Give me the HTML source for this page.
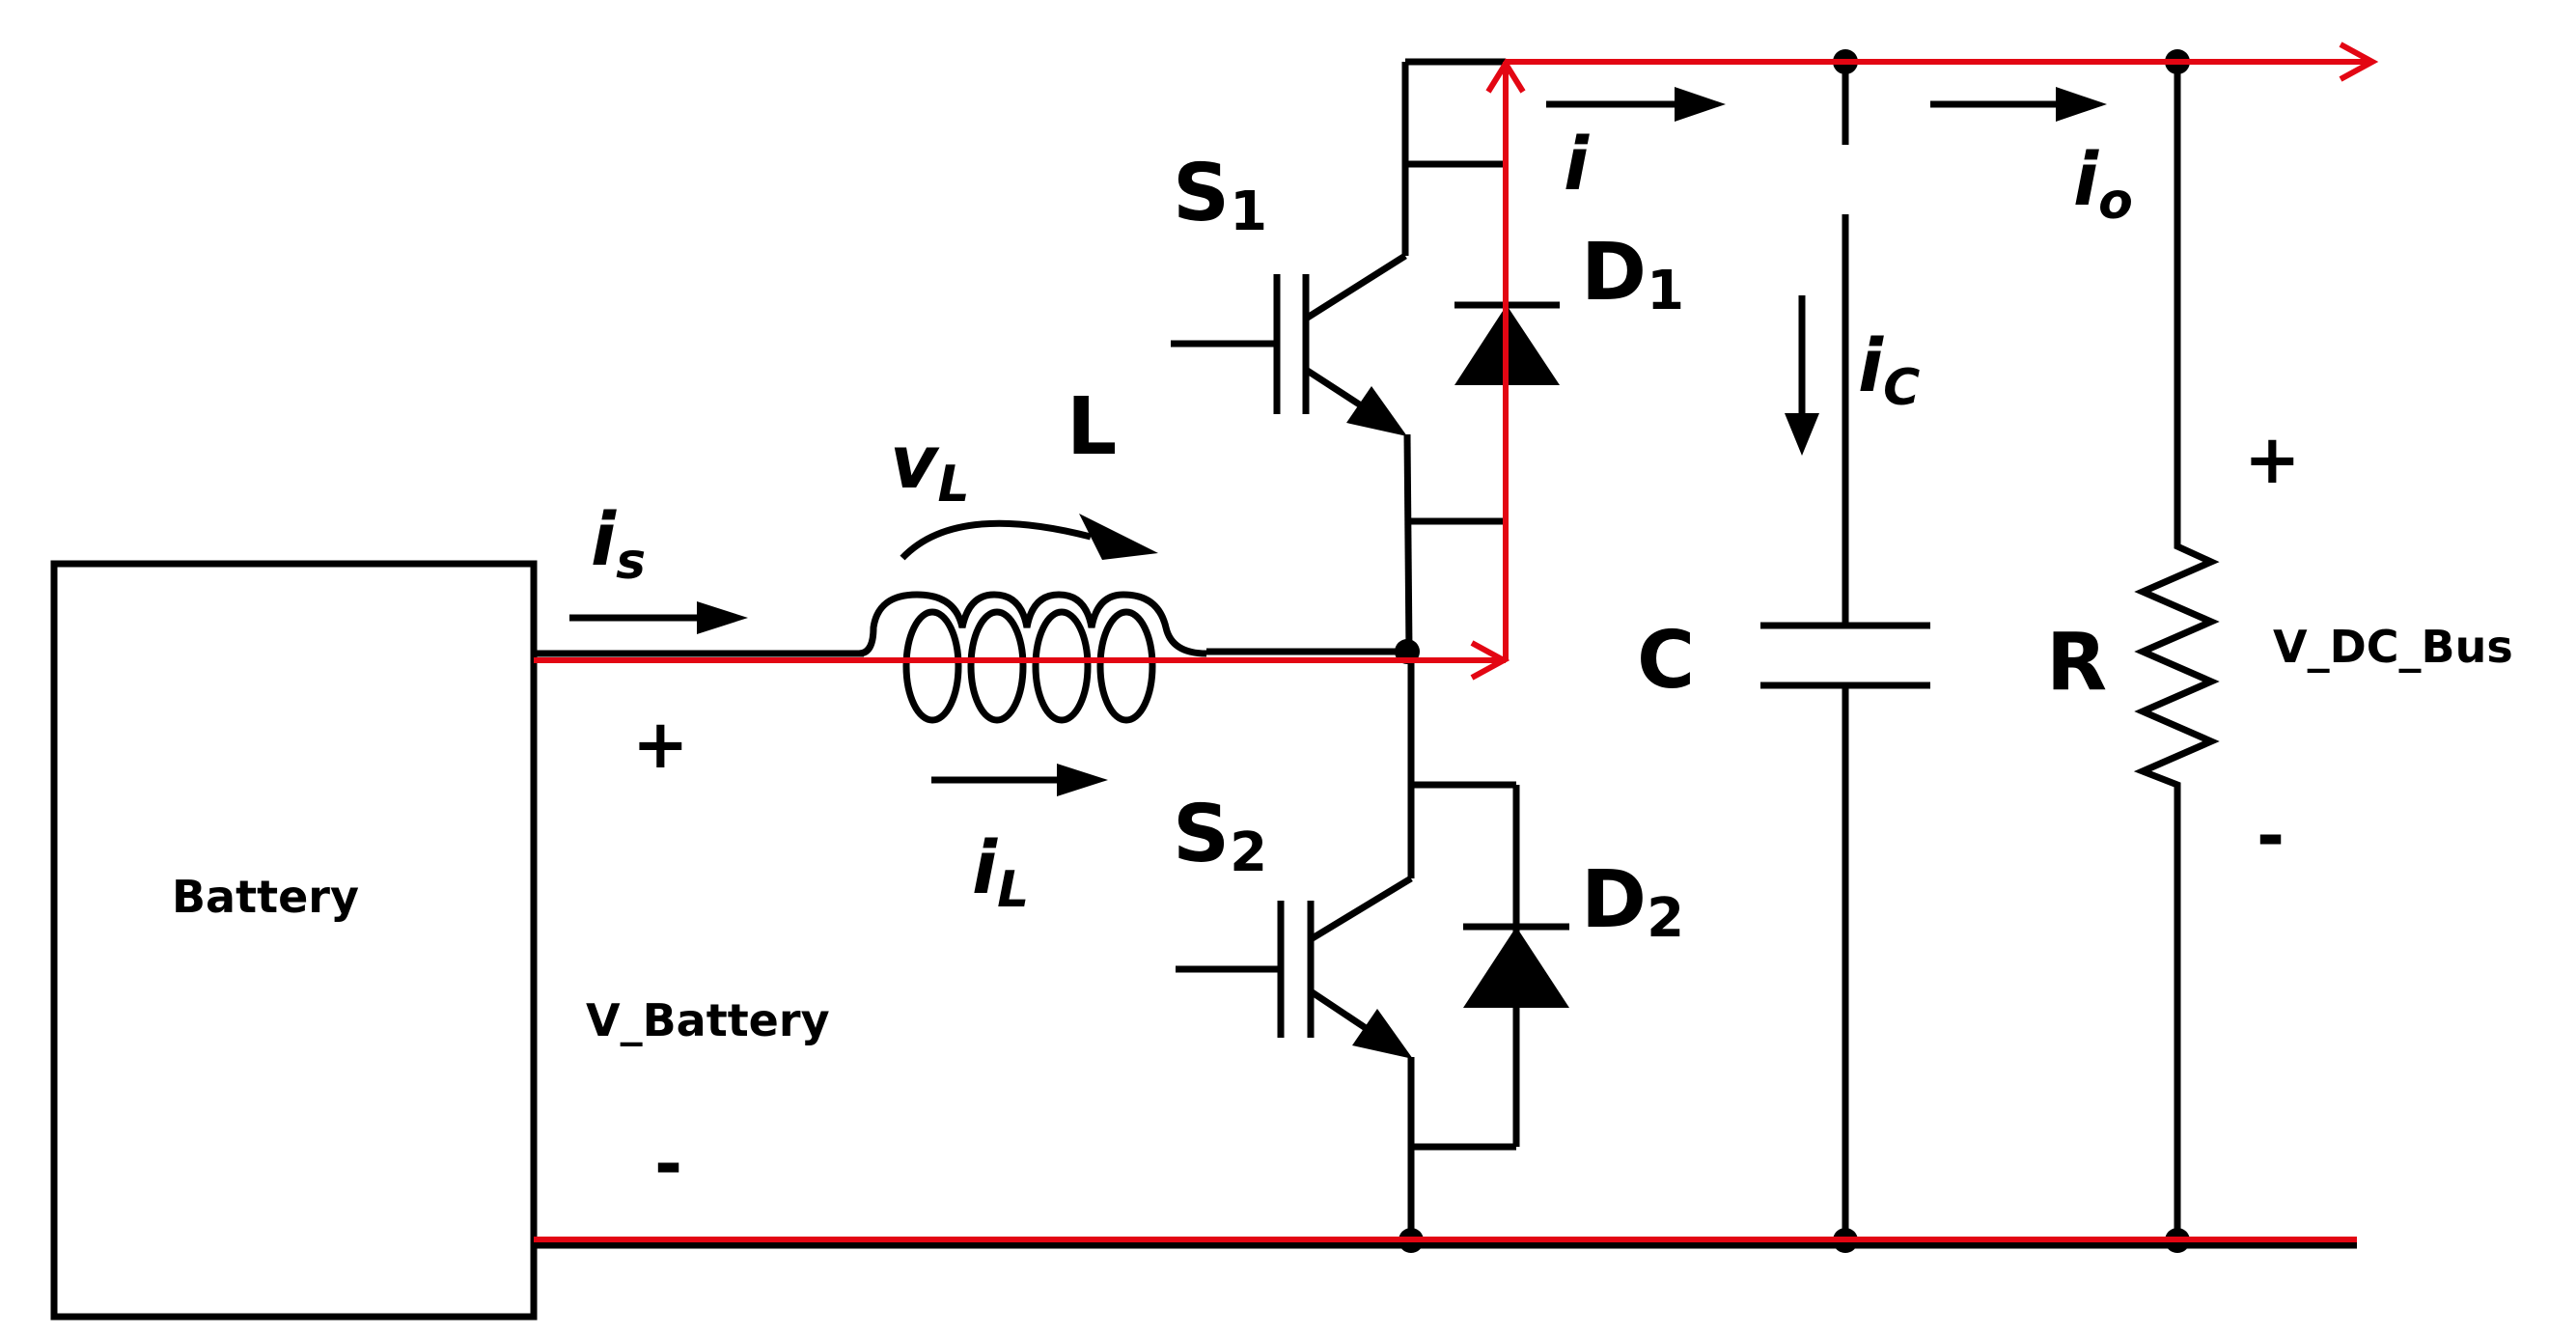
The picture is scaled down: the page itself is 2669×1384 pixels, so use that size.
<!DOCTYPE html>
<html><head><meta charset="utf-8"><style>
html,body{margin:0;padding:0;background:#fff;}
svg{display:block;}
text{font-family:"DejaVu Sans","Liberation Sans",sans-serif;font-weight:bold;fill:#000;}
</style></head><body>
<svg width="2669" height="1384" viewBox="0 0 2669 1384" xmlns="http://www.w3.org/2000/svg">
<g stroke="#000" stroke-width="7" fill="none">
<rect x="56" y="584" width="497" height="780"/>
<line x1="1456" y1="64" x2="1560" y2="64"/>
<line x1="553" y1="677" x2="895" y2="677"/>
<line x1="1250" y1="675" x2="1456" y2="675"/>
<path d="M890 677 Q905 677 905 650 Q910 616 950 616 Q990 616 997 650 Q1004 616 1030 616 Q1058 616 1064 650 Q1070 616 1097 616 Q1125 616 1131 650 Q1137 616 1164 616 Q1200 616 1208 650 Q1214 677 1250 677"/>
<ellipse cx="966" cy="690" rx="27" ry="56"/>
<ellipse cx="1033" cy="690" rx="27" ry="56"/>
<ellipse cx="1100" cy="690" rx="27" ry="56"/>
<ellipse cx="1167" cy="690" rx="27" ry="56"/>
<line x1="1456" y1="64" x2="1456" y2="265"/>
<line x1="1456" y1="170" x2="1560" y2="170"/>
<line x1="1353" y1="330" x2="1456" y2="265"/>
<line x1="1323" y1="284" x2="1323" y2="429"/>
<line x1="1353" y1="284" x2="1353" y2="429"/>
<line x1="1213" y1="356" x2="1323" y2="356"/>
<line x1="1353" y1="383" x2="1410" y2="420"/>
<line x1="1458" y1="450" x2="1460" y2="675"/>
<line x1="1458" y1="540" x2="1560" y2="540"/>
<line x1="1507" y1="316" x2="1616" y2="316"/>
<line x1="1462" y1="675" x2="1462" y2="910"/>
<line x1="1462" y1="813" x2="1571" y2="813"/>
<line x1="1571" y1="813" x2="1571" y2="1188"/>
<line x1="1462" y1="1188" x2="1571" y2="1188"/>
<line x1="1516" y1="960" x2="1626" y2="960"/>
<line x1="1358" y1="973" x2="1462" y2="910"/>
<line x1="1327" y1="933" x2="1327" y2="1075"/>
<line x1="1358" y1="933" x2="1358" y2="1075"/>
<line x1="1218" y1="1004" x2="1327" y2="1004"/>
<line x1="1358" y1="1027" x2="1415" y2="1065"/>
<line x1="1462" y1="1095" x2="1462" y2="1285"/>
<line x1="1912" y1="64" x2="1912" y2="150"/>
<line x1="1912" y1="222" x2="1912" y2="648"/>
<line x1="1824" y1="648" x2="2000" y2="648"/>
<line x1="1824" y1="710" x2="2000" y2="710"/>
<line x1="1912" y1="710" x2="1912" y2="1285"/>
<polyline points="2256,64 2256,566 2291,582 2220,613 2291,644 2220,675 2291,706 2220,737 2291,768 2220,799 2256,813 2256,1285"/>
<line x1="553" y1="1290" x2="2442" y2="1290"/>
<line x1="590" y1="640" x2="740" y2="640"/>
<line x1="965" y1="808" x2="1110" y2="808"/>
<line x1="1602" y1="108" x2="1745" y2="108"/>
<line x1="2000" y1="108" x2="2140" y2="108"/>
<line x1="1867" y1="306" x2="1867" y2="430"/>
<path d="M935 578 Q990 520 1130 556"/>
</g>
<g fill="#000">
<polygon points="722,623 775,640 722,657"/>
<polygon points="1095,791 1148,808 1095,825"/>
<polygon points="1735,90 1788,108 1735,126"/>
<polygon points="2130,90 2183,108 2130,126"/>
<polygon points="1849,428 1885,428 1867,472"/>
<polygon points="1118,532 1200,573 1142,580"/>
<polygon points="1458,452 1395,438 1421,400"/>
<polygon points="1464,1097 1401,1083 1427,1045"/>
<polygon points="1507,399 1616,399 1561,316"/>
<polygon points="1516,1044 1626,1044 1571,960"/>
<circle cx="1458" cy="675" r="13"/>
<circle cx="1912" cy="64" r="13"/>
<circle cx="2256" cy="64" r="13"/>
<circle cx="1462" cy="1285" r="13"/>
<circle cx="1912" cy="1285" r="13"/>
<circle cx="2256" cy="1285" r="13"/>
</g>
<g stroke="#e30613" stroke-width="6" fill="none">
<line x1="553" y1="684" x2="1560" y2="684"/>
<line x1="1560" y1="684" x2="1560" y2="64"/>
<line x1="1560" y1="64" x2="2455" y2="64"/>
<line x1="553" y1="1284" x2="2442" y2="1284"/>
<polyline points="1525,666 1558,684 1525,702"/>
<polyline points="1542,95 1560,66 1578,95"/>
<polyline points="2425,46 2458,64 2425,82"/>
</g>
<text x="178" y="945" font-size="46">Battery</text>
<text x="607" y="1073" font-size="46">V_Battery</text>
<text x="2355" y="686" font-size="46">V_DC_Bus</text>
<text x="655" y="795" font-size="70">+</text>
<text x="678" y="1230" font-size="70">-</text>
<text x="2325" y="500" font-size="70">+</text>
<text x="2338" y="890" font-size="70">-</text>
<text x="1215" y="228" font-size="82">S<tspan font-size="56" dy="10">1</tspan></text>
<text x="1215" y="892" font-size="82">S<tspan font-size="56" dy="10">2</tspan></text>
<text x="1638" y="310" font-size="82">D<tspan font-size="56" dy="10">1</tspan></text>
<text x="1638" y="960" font-size="82">D<tspan font-size="56" dy="10">2</tspan></text>
<text x="1105" y="470" font-size="82">L</text>
<text x="1696" y="712" font-size="82">C</text>
<text x="2120" y="714" font-size="82">R</text>
<g font-style="italic">
<text x="612" y="585" font-size="76">i<tspan font-size="52" dy="14">s</tspan></text>
<text x="922" y="505" font-size="76">v<tspan font-size="52" dy="14">L</tspan></text>
<text x="1007" y="925" font-size="76">i<tspan font-size="52" dy="14">L</tspan></text>
<text x="1620" y="196" font-size="76">i</text>
<text x="2148" y="212" font-size="76">i<tspan font-size="52" dy="14">o</tspan></text>
<text x="1925" y="405" font-size="76">i<tspan font-size="52" dy="14">C</tspan></text>
</g>
</svg>
</body></html>
